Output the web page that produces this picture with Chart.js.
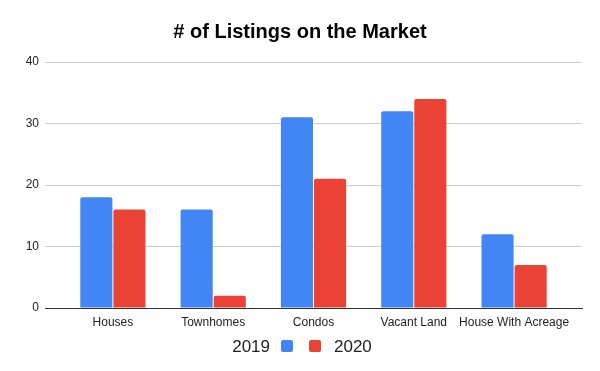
<!DOCTYPE html>
<html>
<head>
<meta charset="utf-8">
<script src="https://cdn.jsdelivr.net/npm/chart.js@4/dist/chart.umd.min.js"></script>
<style>
  html, body { margin: 0; padding: 0; background: #fff; }
  #wrap { width: 600px; height: 371px; position: relative; }
</style>
</head>
<body>
<div id="wrap"><canvas id="c" width="600" height="371"></canvas></div>
<script>
const categories = ["Houses", "Townhomes", "Condos", "Vacant Land", "House With Acreage"];
const values2019 = [18, 16, 31, 32, 12];
const values2020 = [16, 2, 21, 34, 7];
const seriesLabels = ["2019", "2020"];
const yTicks = [0, 10, 20, 30, 40];

const FONT = "'Liberation Sans', Arial, sans-serif";
const BLUE = "#4285F4";
const RED = "#EA4335";

const toPoints = (arr) => arr.map((v, i) => ({ x: i, y: v }));

const customLegend = {
  id: 'customLegend',
  afterDraw(chart) {
    const ctx = chart.ctx;
    const ds = chart.data.datasets;
    ctx.save();
    ctx.font = "17px " + FONT;
    ctx.fillStyle = "#222";
    ctx.textBaseline = "middle";
    const w1 = ctx.measureText(ds[0].label).width;
    const w2 = ctx.measureText(ds[1].label).width;
    const total = w1 + 11 + 12 + 16 + 12 + 13 + w2;
    let x = chart.width / 2 + 2 - total / 2;
    const y = 346;
    ctx.textAlign = "left";
    ctx.fillText(ds[0].label, x, y + 1);
    x += w1 + 11;
    ctx.fillStyle = ds[0].backgroundColor;
    ctx.beginPath(); ctx.roundRect(x, y - 6, 12, 12, 2); ctx.fill();
    x += 12 + 16;
    ctx.fillStyle = ds[1].backgroundColor;
    ctx.beginPath(); ctx.roundRect(x, y - 6, 12, 12, 2); ctx.fill();
    x += 12 + 13;
    ctx.fillStyle = "#222";
    ctx.fillText(ds[1].label, x, y + 1);
    ctx.restore();
  }
};

new Chart(document.getElementById('c'), {
  type: 'bar',
  data: {
    datasets: [
      { label: seriesLabels[0], data: toPoints(values2019), backgroundColor: BLUE,
        categoryPercentage: 0.66, barPercentage: 0.97, borderRadius: 2 },
      { label: seriesLabels[1], data: toPoints(values2020), backgroundColor: RED,
        categoryPercentage: 0.66, barPercentage: 0.97, borderRadius: 2 }
    ]
  },
  options: {
    responsive: false,
    animation: false,
    devicePixelRatio: 1,
    layout: { padding: { left: 0, right: 0, top: 0, bottom: 41 } },
    plugins: {
      legend: { display: false },
      tooltip: { enabled: false },
      title: {
        display: true,
        text: "# of Listings on the Market",
        color: "#000",
        font: { family: FONT, size: 20, weight: 'bold' },
        padding: { top: 20, bottom: 18 }
      }
    },
    scales: {
      x: {
        type: 'linear',
        offset: false,
        min: -0.677,
        max: 4.677,
        grid: { display: false, drawTicks: false, offset: false },
        border: { display: true, color: "#333", width: 1 },
        afterBuildTicks: (scale) => { scale.ticks = categories.map((_, i) => ({ value: i })); },
        afterFit: (scale) => { scale.height = 22; },
        ticks: {
          autoSkip: false, maxRotation: 0, minRotation: 0, padding: 7,
          color: "#222", font: { family: FONT, size: 12 },
          callback: (v) => categories[v]
        }
      },
      y: {
        min: 0,
        max: 40,
        afterBuildTicks: (scale) => { scale.ticks = yTicks.map(v => ({ value: v })); },
        afterFit: (scale) => { scale.width = 45; },
        grid: { color: "#ccc", drawTicks: false },
        border: { display: false },
        ticks: { padding: 6, color: "#222", font: { family: FONT, size: 12 } }
      },
      yRight: {
        position: 'right',
        min: 0,
        max: 40,
        afterFit: (scale) => { scale.width = 18; },
        grid: { display: false, drawTicks: false },
        border: { display: false },
        ticks: { display: false }
      }
    }
  },
  plugins: [customLegend]
});
</script>
</body>
</html>
